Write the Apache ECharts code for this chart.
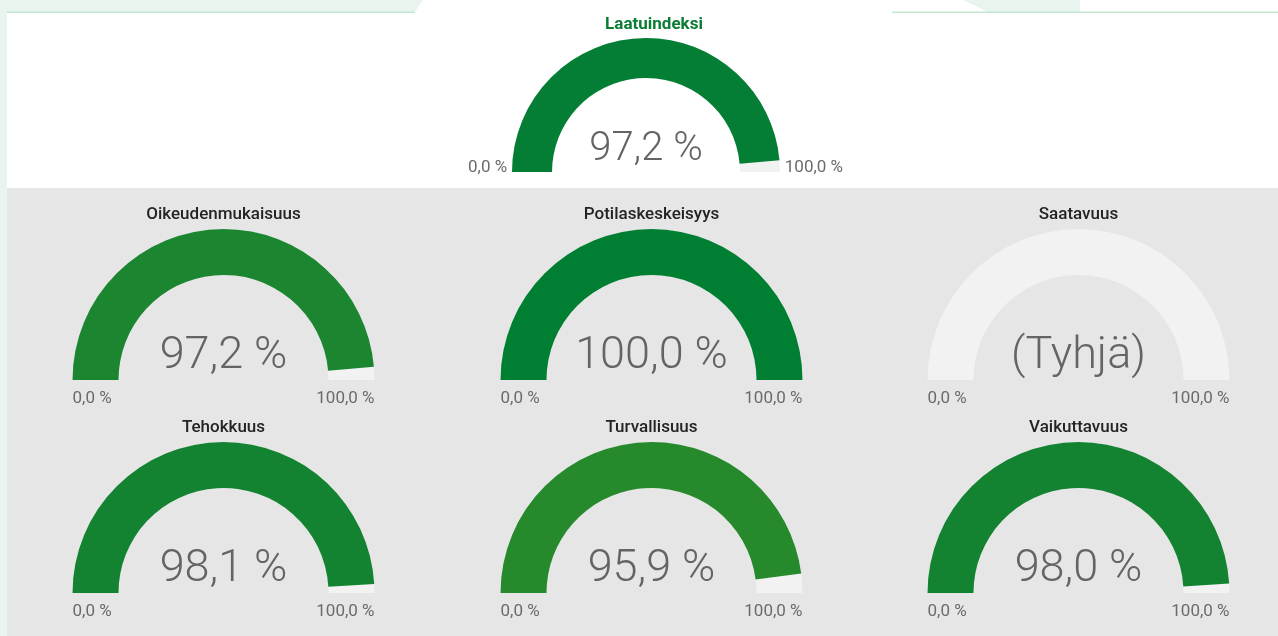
<!DOCTYPE html>
<html>
<head>
<meta charset="utf-8">
<script src="https://cdn.jsdelivr.net/npm/echarts@6/dist/echarts.min.js"></script>
<style>
  html, body { margin: 0; padding: 0; background: #e9f4ee; }
  #chart { width: 1278px; height: 636px; }
</style>
</head>
<body>
<div id="chart"></div>
<script>
// data
const names = ['Laatuindeksi', 'Oikeudenmukaisuus', 'Potilaskeskeisyys', 'Saatavuus', 'Tehokkuus', 'Turvallisuus', 'Vaikuttavuus'];
const values = [97.2, 97.2, 100.0, null, 98.1, 95.9, 98.0];
const colors = ['#047e34', '#1b8530', '#007f33', '#f2f2f2', '#138331', '#268a2d', '#138331'];
const axisMin = 0;
const axisMax = 100;
const tickLabels = ['0,0 %', '100,0 %'];
const emptyText = '(Tyhjä)';

const fmt = v => v.toFixed(1).replace('.', ',') + ' %';

const chart = echarts.init(document.getElementById('chart'));

// layout: [cx, cy, radius, width]
const layout = [
    [646, 172, 134, 40],
    [223.5, 380, 151, 46], [651.5, 380, 151, 46], [1078.5, 380, 151, 46],
    [223.5, 593, 151, 46], [651.5, 593, 151, 46], [1078.5, 593, 151, 46]
];

function gauge(i) {
    const [cx, cy, r, w] = layout[i];
    const top = i === 0;
    const v = values[i];
    return {
        type: 'gauge',
        center: [cx, cy],
        radius: r,
        startAngle: 180,
        endAngle: 0,
        min: axisMin,
        max: axisMax,
        splitNumber: 1,
        pointer: {show: false},
        anchor: {show: false},
        axisTick: {show: false},
        splitLine: {show: false, length: 0, distance: 0},
        axisLine: {lineStyle: {width: w, color: [[1, '#f2f2f2']]}},
        progress: {show: v != null, width: w, itemStyle: {color: colors[i]}},
        axisLabel: {
            distance: top ? -63 : 0,
            padding: top ? [0, 0, 0, 19] : 0,
            lineHeight: top ? 8 : 38,
            color: '#6b6b6b',
            fontSize: 17,
            fontFamily: 'Roboto',
            // first line is a spacer that moves the label below (or above) the arc end
            formatter: val => {
                const t = val === axisMin ? tickLabels[0] : tickLabels[1];
                return top ? t + '\n' : '\n' + t;
            }
        },
        title: {
            offsetCenter: [top ? 8 : 0, top ? -147 : -165],
            color: top ? '#0a7c34' : '#252423',
            fontSize: 17,
            fontWeight: top ? 'bold' : 500,
            fontFamily: 'Roboto'
        },
        detail: {
            offsetCenter: [0, top ? -22 : -23],
            color: '#646464',
            fontSize: top ? 40 : 45,
            fontWeight: 300,
            fontFamily: 'Roboto',
            valueAnimation: false,
            formatter: () => v == null ? emptyText : fmt(v)
        },
        data: [{value: v == null ? axisMin : v, name: names[i]}]
    };
}

chart.setOption({
    animation: false,
    graphic: [
        {type: 'rect', shape: {x: 7, y: 12, width: 1271, height: 176}, style: {fill: '#ffffff'}, silent: true},
        {type: 'polygon', shape: {points: [[415, 12], [423, 0], [963, 0], [988, 12]]}, style: {fill: '#ffffff'}, silent: true},
        {type: 'rect', shape: {x: 1080, y: 0, width: 198, height: 12}, style: {fill: '#ffffff'}, silent: true},
        {type: 'rect', shape: {x: 7, y: 11.5, width: 408, height: 1.5}, style: {fill: '#c3e6d3'}, silent: true},
        {type: 'rect', shape: {x: 892, y: 11.5, width: 386, height: 1.5}, style: {fill: '#c3e6d3'}, silent: true},
        {type: 'rect', shape: {x: 7, y: 188, width: 1271, height: 448}, style: {fill: '#e6e6e6'}, silent: true}
    ],
    series: names.map((n, i) => gauge(i))
});
</script>
</body>
</html>
